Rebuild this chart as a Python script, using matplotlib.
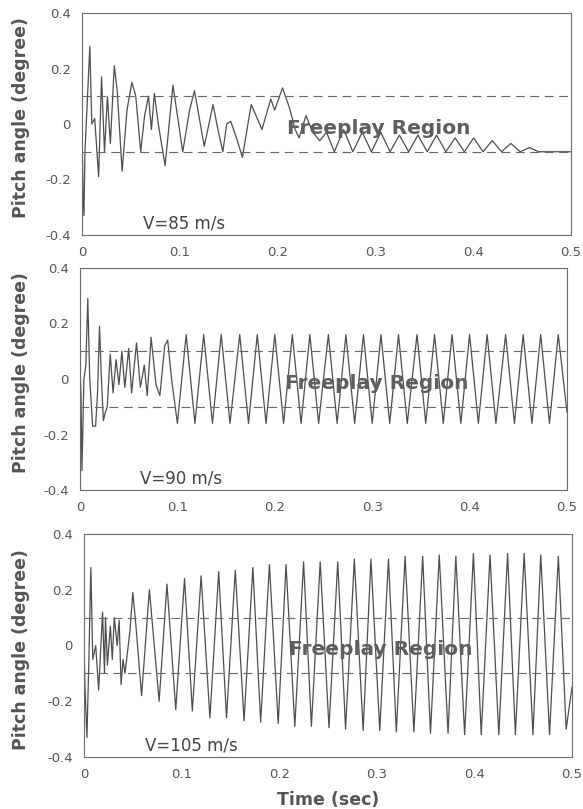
import matplotlib
matplotlib.use("Agg")
import matplotlib.pyplot as plt
import numpy as np

plt.rcParams['font.family'] = ['DejaVu Sans']

# ---- V = 85 m/s : decaying response, settles on the lower freeplay edge
t85_early = [0.000, 0.001, 0.002, 0.003, 0.005, 0.008, 0.010, 0.013, 0.017, 0.020,
             0.023, 0.026, 0.029, 0.033, 0.036, 0.041, 0.046, 0.051, 0.055, 0.060,
             0.064, 0.068, 0.071, 0.074, 0.078, 0.085, 0.093, 0.098, 0.103, 0.110,
             0.115, 0.120, 0.125, 0.134, 0.139, 0.144, 0.148, 0.152, 0.158, 0.164,
             0.173, 0.178, 0.184, 0.193, 0.197, 0.200, 0.205, 0.212, 0.218, 0.222,
             0.229, 0.236, 0.243, 0.250]
a85_early = [0.0, -0.25, -0.33, -0.1, 0.05, 0.28, 0.0, 0.02, -0.19, 0.17,
             -0.1, 0.1, -0.07, 0.21, 0.12, -0.17, 0.05, 0.15, 0.10, -0.10,
             0.03, 0.10, -0.02, 0.11, 0.0, -0.15, 0.14, 0.02, -0.10, 0.05,
             0.12, 0.02, -0.08, 0.07, -0.02, -0.10, 0.0, 0.01, -0.05, -0.12,
             0.07, 0.03, -0.02, 0.09, 0.05, 0.08, 0.13, 0.06, -0.02, -0.05,
             0.03, -0.03, -0.06, -0.03]
t85_peaks = [0.2675, 0.2865, 0.3055, 0.3245, 0.3435, 0.3625, 0.3815, 0.4005,
             0.4195, 0.4385, 0.4575]
a85_peaks = [-0.02, -0.03, -0.03, -0.04, -0.04, -0.04, -0.05, -0.05,
             -0.06, -0.07, -0.085]
t85_troughs = [0.258, 0.277, 0.296, 0.315, 0.334, 0.353, 0.372, 0.391,
               0.410, 0.429, 0.448, 0.467, 0.480, 0.500]
a85_troughs = [-0.10, -0.10, -0.10, -0.10, -0.10, -0.10, -0.10, -0.10,
               -0.10, -0.10, -0.10, -0.10, -0.10, -0.10]

# ---- V = 90 m/s : limit cycle oscillation of constant amplitude
t90_early = [0.000, 0.001, 0.002, 0.004, 0.006, 0.008, 0.010, 0.013, 0.016, 0.018,
             0.020, 0.022, 0.024, 0.026, 0.028, 0.031, 0.034, 0.037, 0.040, 0.043,
             0.046, 0.050, 0.053, 0.058, 0.062, 0.066, 0.069, 0.073, 0.078, 0.082,
             0.087, 0.090, 0.094, 0.100]
a90_early = [0.05, -0.05, -0.33, 0.0, 0.05, 0.29, 0.0, -0.17, -0.17, -0.05,
             0.19, 0.0, -0.15, -0.12, -0.10, 0.09, -0.05, 0.07, -0.02, 0.10,
             -0.03, 0.11, -0.05, 0.13, -0.03, 0.05, -0.06, 0.15, -0.02, -0.06,
             0.12, 0.14, 0.0, -0.16]
t90_peaks = [0.109, 0.127, 0.145, 0.164, 0.182, 0.200, 0.218, 0.236, 0.255, 0.273,
             0.291, 0.309, 0.327, 0.346, 0.364, 0.382, 0.400, 0.418, 0.437, 0.455,
             0.473, 0.491]
a90_peaks = [0.16, 0.16, 0.16, 0.16, 0.16, 0.16, 0.16, 0.16, 0.16, 0.16,
             0.16, 0.16, 0.16, 0.16, 0.16, 0.16, 0.16, 0.16, 0.16, 0.16,
             0.16, 0.16]
t90_troughs = [0.118, 0.136, 0.154, 0.173, 0.191, 0.209, 0.227, 0.245, 0.264, 0.282,
               0.300, 0.318, 0.336, 0.355, 0.373, 0.391, 0.409, 0.427, 0.446, 0.464,
               0.482, 0.500]
a90_troughs = [-0.16, -0.16, -0.16, -0.16, -0.16, -0.16, -0.16, -0.16, -0.16, -0.16,
               -0.16, -0.16, -0.16, -0.16, -0.16, -0.16, -0.16, -0.16, -0.16, -0.16,
               -0.16, -0.12]

# ---- V = 105 m/s : growing oscillation
t105_early = [0.000, 0.001, 0.003, 0.005, 0.007, 0.009, 0.012, 0.015, 0.019, 0.021,
              0.022, 0.024, 0.027, 0.029, 0.031, 0.034, 0.036, 0.038, 0.040, 0.042,
              0.047, 0.050, 0.053, 0.059, 0.067, 0.077, 0.085, 0.094]
a105_early = [0.0, -0.15, -0.33, -0.05, 0.28, -0.05, 0.0, -0.16, 0.12, -0.10,
              0.10, -0.07, 0.07, -0.05, 0.10, 0.0, 0.09, -0.14, -0.05, -0.10,
              0.05, 0.19, 0.08, -0.18, 0.20, -0.20, 0.22, -0.23]
t105_peaks = [0.103, 0.120, 0.138, 0.155, 0.173, 0.190, 0.207, 0.225, 0.242, 0.260,
              0.277, 0.294, 0.312, 0.329, 0.347, 0.364, 0.381, 0.399, 0.416, 0.434,
              0.451, 0.468, 0.486]
a105_peaks = [0.24, 0.25, 0.265, 0.27, 0.28, 0.29, 0.29, 0.30, 0.30, 0.30,
              0.31, 0.31, 0.31, 0.32, 0.32, 0.325, 0.32, 0.33, 0.325, 0.33,
              0.33, 0.325, 0.32]
t105_troughs = [0.111, 0.129, 0.146, 0.164, 0.181, 0.199, 0.216, 0.233, 0.251, 0.268,
                0.286, 0.303, 0.320, 0.338, 0.355, 0.373, 0.390, 0.407, 0.425, 0.442,
                0.460, 0.477, 0.494, 0.500]
a105_troughs = [-0.235, -0.26, -0.26, -0.27, -0.275, -0.28, -0.29, -0.29, -0.295, -0.30,
                -0.305, -0.305, -0.31, -0.31, -0.315, -0.315, -0.32, -0.32, -0.32, -0.32,
                -0.32, -0.32, -0.30, -0.15]

speeds = ["V=85 m/s", "V=90 m/s", "V=105 m/s"]
freeplay = 0.1
yticks = [-0.4, -0.2, 0, 0.2, 0.4]
ytick_labels = ["-0.4", "-0.2", "0", "0.2", "0.4"]
xticks = [0, 0.1, 0.2, 0.3, 0.4, 0.5]
xtick_labels = ["0", "0.1", "0.2", "0.3", "0.4", "0.5"]


def merge(*parts):
    t = np.concatenate([p[0] for p in parts])
    a = np.concatenate([p[1] for p in parts])
    order = np.argsort(t, kind="stable")
    return t[order], a[order]


series = [
    merge((t85_early, a85_early), (t85_peaks, a85_peaks), (t85_troughs, a85_troughs)),
    merge((t90_early, a90_early), (t90_peaks, a90_peaks), (t90_troughs, a90_troughs)),
    merge((t105_early, a105_early), (t105_peaks, a105_peaks), (t105_troughs, a105_troughs)),
]

W, H = 583, 809
fig = plt.figure(figsize=(W / 100, H / 100), dpi=100)

# axes boxes in pixels: left, top, right, bottom  + y-label centre
boxes = [(82, 13, 571, 235), (80, 268, 567, 490), (84, 534, 572, 757)]
ylabel_y = [118, 373, 650]

line_col = "#4d4d4d"
text_col = "#555555"

for (t, a), label, (l, tp, r, b), yl in zip(series, speeds, boxes, ylabel_y):
    ax = fig.add_axes([l / W, 1 - b / H, (r - l) / W, (b - tp) / H])
    ax.plot(t, a, color=line_col, lw=0.9)
    ax.axhline(freeplay, color="#666666", lw=0.8, dashes=(8, 5))
    ax.axhline(-freeplay, color="#666666", lw=0.8, dashes=(8, 5))
    ax.set_xlim(0, 0.5)
    ax.set_ylim(-0.4, 0.4)
    ax.set_xticks(xticks)
    ax.set_xticklabels(xtick_labels)
    ax.set_yticks(yticks)
    ax.set_yticklabels(ytick_labels)
    ax.tick_params(length=0, pad=8, labelsize=9.5, labelcolor=text_col)
    for s in ax.spines.values():
        s.set_color("#6a6a6a")
        s.set_linewidth(0.8)
    ax.text(0.21, -0.016, "Freeplay Region", fontsize=14.5, fontweight="bold",
            color="#5e5e5e", va="center", ha="left")
    ax.text(0.062, -0.36, label, fontsize=12, color="#444444", va="center", ha="left")
    fig.text(21 / W, 1 - yl / H, "Pitch angle (degree)", rotation=90,
             fontsize=12.5, fontweight="bold", color="#555555", va="center", ha="center")

fig.text(328 / W, 1 - 800 / H, "Time (sec)", fontsize=12.5,
         fontweight="bold", color="#555555", ha="center", va="center")

fig.savefig("out.png", dpi=100, facecolor="white")
